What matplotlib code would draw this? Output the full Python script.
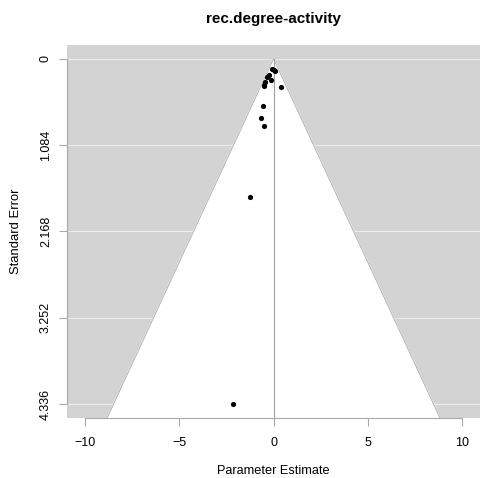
import matplotlib
matplotlib.use("Agg")
import matplotlib.pyplot as plt
import numpy as np

plt.rcParams['font.family'] = ['Liberation Sans', 'DejaVu Sans']

# estimates and standard errors read off the funnel
est = [-0.08, 0.04, 0.09, -0.26, -0.35, -0.14, -0.44, -0.51, -0.48, 0.42,
       -0.56, -0.69, -0.53, -1.25, -2.14]
se = [0.126, 0.139, 0.16, 0.20, 0.23, 0.27, 0.29, 0.33, 0.34, 0.36,
      0.59, 0.74, 0.84, 1.73, 4.336]
yticks = [0, 1.084, 2.168, 3.252, 4.336]
ylabels = ['0', '1.084', '2.168', '3.252', '4.336']
xticks = [-10, -5, 0, 5, 10]
center = 0.0

ymax = max(yticks)
ylo, yhi = -0.04 * ymax, ymax * 1.04
xlo, xhi = -10.97, 10.97

fig = plt.figure(figsize=(4.82, 4.78), dpi=100)
ax = fig.add_axes([0.139, 0.1255, 0.857, 0.7805])
ax.set_facecolor('#D3D3D3')

for t in yticks:
    ax.axhline(t, color='#F2F2F2', lw=0.6, zorder=1)

z = 1.96
ax.fill([center - z * yhi, center, center + z * yhi],
        [yhi, 0, yhi], color='white', zorder=2)
ax.plot([center - z * yhi, center, center + z * yhi],
        [yhi, 0, yhi], color='#A8A8A8', lw=0.6, zorder=3)
ax.plot([center, center], [0, yhi], color='#A0A0A0', lw=0.8, zorder=3)

ax.scatter(est, se, s=14, color='black', zorder=4, linewidths=0)

ax.set_xlim(xlo, xhi)
ax.set_ylim(yhi, ylo)
ax.set_xticks(xticks)
ax.set_yticks(yticks)
ax.set_yticklabels(ylabels, rotation=90, va='center')

for s in ['top', 'right']:
    ax.spines[s].set_visible(False)
ax.spines['left'].set_bounds(0, ymax)
ax.spines['bottom'].set_bounds(-10, 10)
for s in ['left', 'bottom']:
    ax.spines[s].set_color('#A8A8A8')
    ax.spines[s].set_linewidth(0.8)
ax.tick_params(colors='#A8A8A8', labelcolor='black', length=5.8, width=0.8,
               labelsize=9)
ax.tick_params(axis='x', pad=8)
ax.tick_params(axis='y', pad=5)

ax.set_xlabel('Parameter Estimate', fontsize=9.2, labelpad=11.5)
ax.set_ylabel('Standard Error', fontsize=9.4, labelpad=13)
ax.set_title('rec.degree-activity', fontsize=11, fontweight='bold', pad=15.5)

fig.savefig('out.png', dpi=100)
